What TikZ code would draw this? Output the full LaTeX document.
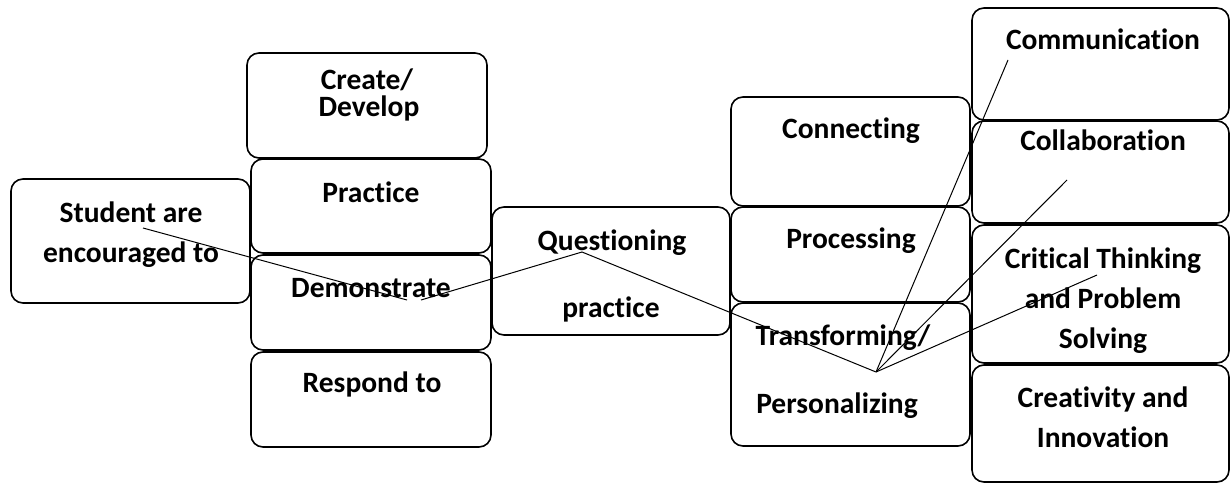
\documentclass[tikz,border=0pt]{standalone}
\usepackage{fontspec}
\setmainfont{Carlito}[Ligatures={NoCommon,NoContextual}]
\tikzset{
  box/.style={draw, line width=1.6pt, rounded corners=12pt, inner sep=0pt},
  txt/.style={anchor=base, inner sep=0pt, font=\fontsize{29.5}{34}\selectfont\bfseries},
}
\begin{document}
\begin{tikzpicture}[x=1pt, y=-1pt]
  \useasboundingbox (0,0) rectangle (1230,484);
  % boxes
  \node[box, minimum width=239pt, minimum height=124pt] (student) at (130.5,241) {};
  \node[box, minimum width=240pt, minimum height=105pt] (create) at (367,105.5) {};
  \node[box, minimum width=240pt, minimum height=94pt] (practice) at (371,206) {};
  \node[box, minimum width=240pt, minimum height=95pt] (demo) at (371,302.5) {};
  \node[box, minimum width=240pt, minimum height=95pt] (respond) at (371,399.5) {};
  \node[box, minimum width=238pt, minimum height=128pt] (quest) at (611,271) {};
  \node[box, minimum width=239pt, minimum height=109pt] (connect) at (850.5,151.5) {};
  \node[box, minimum width=239pt, minimum height=95pt] (process) at (850.5,254.5) {};
  \node[box, minimum width=239pt, minimum height=143pt] (transform) at (850.5,374.5) {};
  \node[box, minimum width=257pt, minimum height=112pt] (comm) at (1100.5,64) {};
  \node[box, minimum width=257pt, minimum height=102pt] (collab) at (1100.5,172) {};
  \node[box, minimum width=257pt, minimum height=138pt] (critical) at (1100.5,294) {};
  \node[box, minimum width=257pt, minimum height=117pt] (creative) at (1100.5,423.5) {};
  % labels
  \node[txt] (student1) at (131,222) {Student are};
  \node[txt] (student2) at (131,262) {encouraged to};
  \node[txt] (create1) at (367,90) {Create/};
  \node[txt] (create2) at (369,117) {Develop};
  \node[txt] (practice1) at (371,202) {Practice};
  \node[txt] (demo1) at (371,297) {Demonstrate};
  \node[txt] (respond1) at (372,392) {Respond to};
  \node[txt] (quest1) at (612,250) {Questioning};
  \node[txt] (quest2) at (611,317) {practice};
  \node[txt] (connect1) at (851,138) {Connecting};
  \node[txt] (process1) at (851,248) {Processing};
  \node[txt] (transform1) at (843,345) {Transforming/};
  \node[txt] (transform2) at (837,413) {Personalizing};
  \node[txt] (comm1) at (1103,50) {Communication};
  \node[txt] (collab1) at (1103,150) {Collaboration};
  \node[txt] (critical1) at (1103,268) {Critical Thinking};
  \node[txt] (critical2) at (1103,308) {and Problem};
  \node[txt] (critical3) at (1103,348) {Solving};
  \node[txt] (creative1) at (1103,407) {Creativity and};
  \node[txt] (creative2) at (1103,447) {Innovation};
  % zig-zag line
  \coordinate (s0) at (143,228);
  \coordinate (s1) at (407,300);
  \coordinate (d0) at (421,300);
  \coordinate (q0) at (582,252);
  \coordinate (t0) at (876,372);
  \coordinate (m0) at (1008,60);
  \coordinate (l0) at (1067,180);
  \coordinate (k0) at (1097,275);
  \draw[line width=1pt] (s0) -- (s1);
  \draw[line width=1pt] (d0) -- (q0) -- (t0);
  \draw[line width=1pt] (t0) -- (m0);
  \draw[line width=1pt] (t0) -- (l0);
  \draw[line width=1pt] (t0) -- (k0);
\end{tikzpicture}
\end{document}
